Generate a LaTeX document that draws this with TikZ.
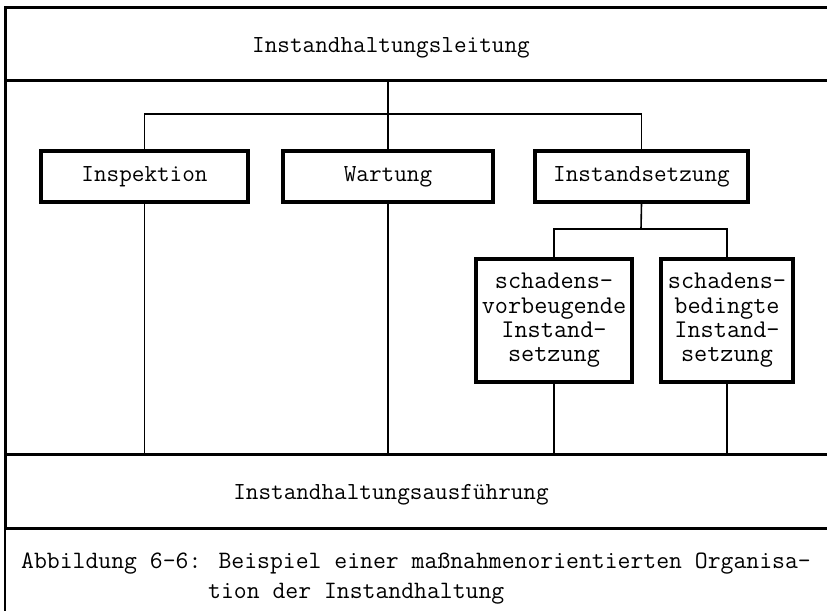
\documentclass[tikz,border=0pt]{standalone}
\usepackage{tikz}
\newcommand\orgfont{\fontsize{24.5}{24.3}\selectfont\ttfamily}
\newcommand\subfont{\fontsize{25.5}{24.3}\selectfont\ttfamily}
\newcommand\captfont{\fontsize{25}{30}\selectfont\ttfamily}

\begin{document}
\begin{tikzpicture}[x=1pt,y=-1pt,
      unit/.style={rectangle,draw,line width=3.2pt,inner sep=0pt,
                   align=center,font=\orgfont},
      band/.style={inner sep=0pt,font=\orgfont},
      frame/.style={line width=3pt},
      link/.style={line width=1.6pt}]
    \useasboundingbox (0,0) rectangle (827,611);
    %% ── Outer frame and bands ───────────────────────────────
    \draw[frame] (827,7) -- (5,7) -- (5,528);
    \draw[link] (5,528) -- (5,611);
    \draw[frame] (5,80)  -- (827,80);
    \draw[frame] (5,454) -- (827,454);
    \draw[frame] (5,528) -- (827,528);
    \node[band,anchor=base] (lead) at (391,52)  {Instandhaltungsleitung};
    \node[band,anchor=base] (ausf) at (391,499) {Instandhaltungsausf\"uhrung};
    %% ── Row 1 ────────────────────────────────────────────────
    \node[unit,minimum width=207pt,minimum height=51pt] (insp) at (144.5,176.5) {Inspektion};
    \node[unit,minimum width=210pt,minimum height=51pt] (wart) at (388,176.5)   {Wartung};
    \node[unit,minimum width=213pt,minimum height=51pt] (inst) at (641.5,176.5) {Instandsetzung};
    %% ── Row 2 (under Instandsetzung) ────────────────────────
    \node[unit,font=\subfont,minimum width=156pt,minimum height=123pt] (vorb) at (554,320.5)
         {schadens-\\vorbeugende\\Instand-\\setzung};
    \node[unit,font=\subfont,minimum width=132pt,minimum height=123pt] (bed)  at (727,320.5)
         {schadens-\\bedingte\\Instand-\\setzung};
    %% ── Connectors ───────────────────────────────────────────
    \coordinate (top)  at (388,80);
    \coordinate (hub)  at (388,114);
    \coordinate (sub)  at (641,229);
    \coordinate (base) at (388,454);
    \draw[link] (top) -- (wart.north);
    \draw[link] (insp.north) |- (hub) -| (inst.north);
    \draw[link] (inst.south) -- (sub);
    \draw[link] (vorb.north) |- (sub) -| (bed.north);
    \draw[link] (insp.south) -- (insp.south |- base);
    \draw[link] (wart.south) -- (base);
    \draw[link] (vorb.south) -- (vorb.south |- base);
    \draw[link] (bed.south)  -- (bed.south |- base);
    %% ── Caption ──────────────────────────────────────────────
    \node[band,font=\captfont,anchor=base west] (capt) at (21,568)
         {Abbildung 6-6: Beispiel einer ma\ss nahmenorientierten Organisa-};
    \node[band,font=\captfont,anchor=base west] (capt2) at (208,598) {tion der Instandhaltung};
\end{tikzpicture}
\end{document}
